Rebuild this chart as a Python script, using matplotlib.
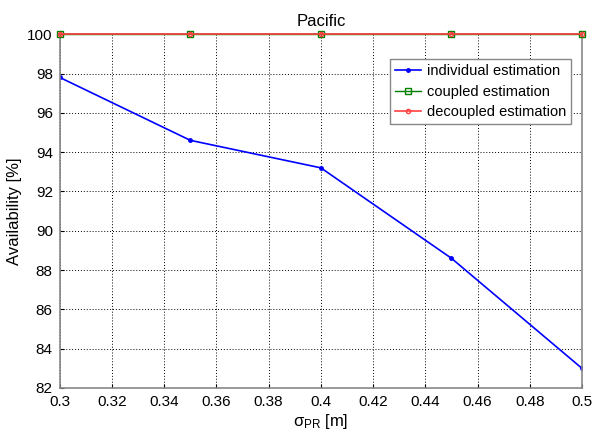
import numpy as np
import matplotlib
matplotlib.use("Agg")
import matplotlib.pyplot as plt

plt.rcParams['font.family'] = ['Liberation Sans', 'DejaVu Sans']
plt.rcParams['mathtext.fontset'] = 'custom'
plt.rcParams['mathtext.rm'] = 'Liberation Sans'
plt.rcParams['mathtext.it'] = 'Liberation Sans'

# data
sigma_pr = [0.30, 0.35, 0.40, 0.45, 0.50]
individual = [97.8, 94.6, 93.2, 88.6, 83.0]
coupled = [100, 100, 100, 100, 100]
decoupled = [100, 100, 100, 100, 100]

fig = plt.figure(figsize=(5.92, 4.33), dpi=100)
ax = fig.add_axes([0.101, 0.104, 0.882, 0.817])

ax.plot(sigma_pr, individual, color='#0000ff', marker='.', markersize=5,
        linewidth=1.2, label='individual estimation')
ax.plot(sigma_pr, coupled, color='#008000', marker='s', markersize=4,
        markerfacecolor='none', linewidth=1.0, label='coupled estimation',
        clip_on=False, zorder=3)
ax.plot(sigma_pr, decoupled, color='#ff4040', marker='o', markersize=3,
        markerfacecolor='none', linewidth=1.2, label='decoupled estimation',
        clip_on=False, zorder=4)

ax.set_xlim(0.3, 0.5)
ax.set_ylim(82, 100)
ax.set_xticks(np.arange(0.30, 0.501, 0.02))
ax.set_xticklabels(['0.3', '0.32', '0.34', '0.36', '0.38', '0.4',
                    '0.42', '0.44', '0.46', '0.48', '0.5'])
ax.set_yticks(np.arange(82, 101, 2))
ax.tick_params(labelsize=11, direction='in', length=3, pad=5)
ax.grid(True, linestyle=(0, (1, 2)), color='black', linewidth=0.7)
for s in ax.spines.values():
    s.set_color('#888888')
    s.set_linewidth(1.2)

ax.set_title('Pacific', fontsize=12, pad=6)
ax.set_ylabel('Availability [%]', fontsize=12)
ax.set_xlabel(r'$\sigma_{PR}$ [m]', fontsize=12, labelpad=2)

leg = ax.legend(loc='upper right', bbox_to_anchor=(0.98, 0.93), fontsize=10.5,
                fancybox=False, framealpha=1, edgecolor='#888888',
                handlelength=1.8, handletextpad=0.4, borderpad=0.35,
                labelspacing=0.45, borderaxespad=0)
leg.set_zorder(5)

fig.savefig('out.png', dpi=100)
